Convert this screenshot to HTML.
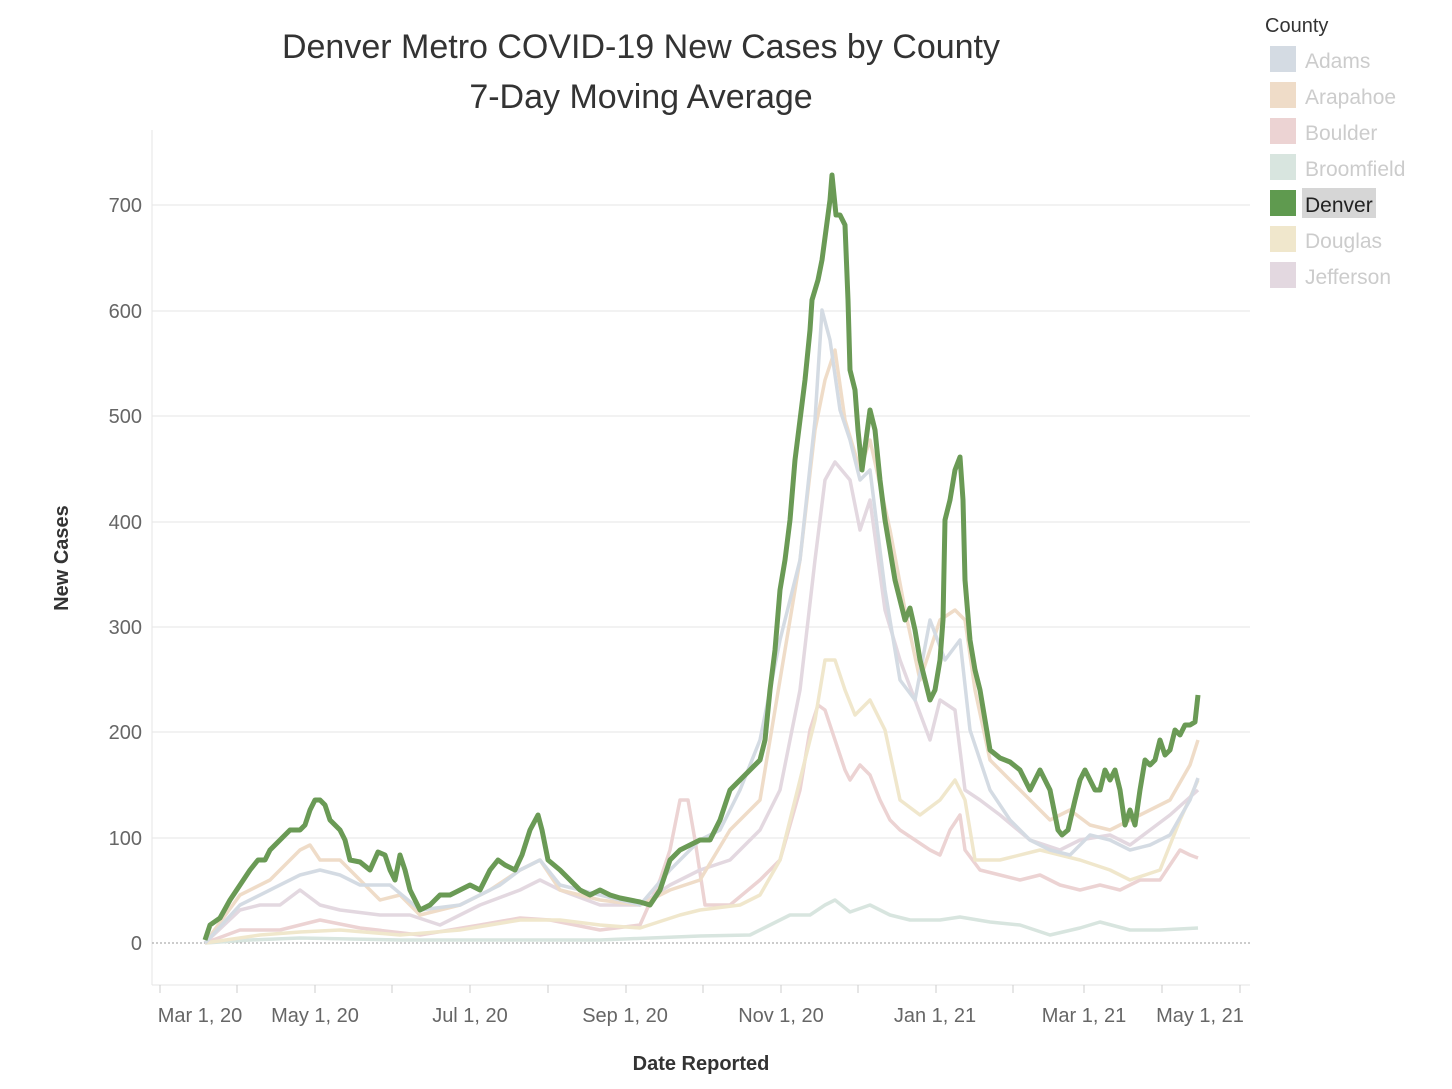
<!DOCTYPE html>
<html><head><meta charset="utf-8"><style>
body{margin:0;background:#fff;width:1452px;height:1084px;overflow:hidden;font-family:"Liberation Sans",sans-serif}
</style></head><body>
<svg width="1452" height="1084" viewBox="0 0 1452 1084" xmlns="http://www.w3.org/2000/svg" font-family="Liberation Sans, sans-serif">
<text x="641" y="58" font-size="34" fill="#333" text-anchor="middle">Denver Metro COVID-19 New Cases by County</text>
<text x="641" y="108" font-size="34" fill="#333" text-anchor="middle">7-Day Moving Average</text>
<!-- grid -->
<g stroke="#eeeeee" stroke-width="1.5">
<line x1="152" y1="205" x2="1250" y2="205"/><line x1="152" y1="311" x2="1250" y2="311"/>
<line x1="152" y1="416" x2="1250" y2="416"/><line x1="152" y1="522" x2="1250" y2="522"/>
<line x1="152" y1="627" x2="1250" y2="627"/><line x1="152" y1="732" x2="1250" y2="732"/>
<line x1="152" y1="838" x2="1250" y2="838"/>
</g>
<line x1="152" y1="130" x2="152" y2="985" stroke="#e6e6e6"/>
<line x1="152" y1="985" x2="1250" y2="985" stroke="#e6e6e6"/>
<line x1="152" y1="943" x2="1250" y2="943" stroke="#999" stroke-dasharray="2,2"/>
<g font-size="20" fill="#666" text-anchor="end">
<text x="142" y="212">700</text><text x="142" y="318">600</text><text x="142" y="423">500</text>
<text x="142" y="529">400</text><text x="142" y="634">300</text><text x="142" y="739">200</text>
<text x="142" y="845">100</text><text x="142" y="950">0</text>
</g>
<g stroke="#ccc" stroke-width="1">
<line x1="160" y1="985" x2="160" y2="993"/><line x1="237" y1="985" x2="237" y2="993"/><line x1="315" y1="985" x2="315" y2="993"/><line x1="392" y1="985" x2="392" y2="993"/><line x1="470" y1="985" x2="470" y2="993"/><line x1="548" y1="985" x2="548" y2="993"/><line x1="626" y1="985" x2="626" y2="993"/><line x1="703" y1="985" x2="703" y2="993"/><line x1="781" y1="985" x2="781" y2="993"/><line x1="858" y1="985" x2="858" y2="993"/><line x1="936" y1="985" x2="936" y2="993"/><line x1="1013" y1="985" x2="1013" y2="993"/><line x1="1084" y1="985" x2="1084" y2="993"/><line x1="1162" y1="985" x2="1162" y2="993"/><line x1="1240" y1="985" x2="1240" y2="993"/>
</g>
<g font-size="20" fill="#666" text-anchor="middle">
<text x="200" y="1022">Mar 1, 20</text><text x="315" y="1022">May 1, 20</text><text x="470" y="1022">Jul 1, 20</text>
<text x="625" y="1022">Sep 1, 20</text><text x="781" y="1022">Nov 1, 20</text><text x="935" y="1022">Jan 1, 21</text>
<text x="1084" y="1022">Mar 1, 21</text><text x="1200" y="1022">May 1, 21</text>
</g>
<text x="701" y="1070" font-size="20" font-weight="bold" fill="#333" text-anchor="middle">Date Reported</text>
<text transform="translate(68,558) rotate(-90)" font-size="20" font-weight="bold" fill="#333" text-anchor="middle">New Cases</text>
<g fill="none" stroke-width="3.5" stroke-linejoin="round">
<polyline stroke="#d8e5df" points="205,943 250,940 300,938 400,940 500,940 600,940 700,936 750,935 770,925 790,915 810,915 825,905 835,900 850,912 870,905 890,915 910,920 940,920 960,917 990,922 1020,925 1050,935 1080,928 1100,922 1130,930 1160,930 1198,928"/>
<polyline stroke="#ecd3d3" points="205,943 240,930 280,930 300,925 320,920 360,928 420,935 480,925 520,918 550,920 600,930 640,925 660,880 670,850 680,800 688,800 695,840 705,905 730,905 760,880 780,860 800,790 810,730 818,705 825,710 835,740 845,770 850,780 860,765 870,775 880,800 890,820 900,830 915,840 930,850 940,855 950,830 960,815 965,850 980,870 1000,875 1020,880 1040,875 1060,885 1080,890 1100,885 1120,890 1140,880 1160,880 1180,850 1190,855 1198,858"/>
<polyline stroke="#f0e7cc" points="205,943 260,935 300,932 340,930 400,935 460,930 520,920 560,920 600,925 640,928 680,915 700,910 740,905 760,895 780,860 800,780 815,720 825,660 835,660 845,690 855,715 870,700 885,730 900,800 920,815 940,800 955,780 965,800 975,860 1000,860 1040,850 1080,860 1110,870 1130,880 1160,870 1180,820 1198,780"/>
<polyline stroke="#e3d8e0" points="205,943 240,910 260,905 280,905 300,890 320,905 340,910 380,915 410,915 440,925 480,905 520,890 540,880 560,890 600,905 640,905 670,885 700,870 730,860 760,830 780,790 800,690 815,560 825,480 835,462 850,480 860,530 870,500 885,610 900,660 915,700 930,740 940,700 955,710 965,790 980,800 1000,815 1030,840 1060,850 1080,840 1110,835 1130,845 1150,830 1170,815 1198,790"/>
<polyline stroke="#efdcc8" points="205,943 240,895 270,880 300,850 310,845 320,860 340,860 360,880 380,900 400,895 420,915 460,905 490,890 520,870 540,860 560,890 600,900 640,905 670,890 700,880 730,830 760,800 780,680 800,560 815,430 825,380 835,350 845,420 860,470 870,440 890,530 905,610 920,680 940,620 955,610 965,620 975,690 990,760 1010,780 1030,800 1050,820 1070,810 1090,825 1110,830 1130,820 1150,810 1170,800 1190,765 1198,740"/>
<polyline stroke="#d4dbe3" points="205,943 240,905 270,890 300,875 320,870 340,875 360,885 390,885 420,910 460,905 500,885 520,870 540,860 560,885 600,895 640,905 670,870 700,840 720,830 740,790 760,740 780,640 800,560 815,420 822,310 830,340 840,410 850,440 860,480 870,470 885,590 900,680 915,700 930,620 945,660 960,640 970,730 990,790 1010,820 1030,840 1050,850 1070,855 1090,835 1110,840 1130,850 1150,845 1170,835 1190,800 1198,778"/>
<polyline stroke="#6a9a55" stroke-width="5" points="205,940 210,925 220,918 230,900 240,885 250,870 258,860 265,860 270,850 280,840 290,830 300,830 305,825 310,810 315,800 320,800 325,805 330,820 340,830 345,840 350,860 360,862 370,870 378,852 385,855 390,870 395,880 400,855 405,870 410,890 420,910 430,905 440,895 450,895 460,890 470,885 480,890 490,870 498,860 505,865 515,870 522,855 530,830 538,815 542,830 548,860 560,870 570,880 580,890 590,895 600,890 610,895 620,898 630,900 640,902 650,905 660,890 670,860 680,850 690,845 700,840 710,840 720,820 730,790 740,780 750,770 760,760 765,740 770,690 775,650 780,590 785,560 790,520 795,460 800,420 805,380 810,330 812,300 818,280 822,260 826,230 830,200 832,175 836,215 840,215 845,225 848,300 850,370 855,390 858,430 862,470 866,440 870,410 875,430 880,480 885,520 890,550 895,580 900,600 905,620 910,608 915,630 920,660 925,680 930,700 935,690 940,660 943,620 945,520 950,500 955,470 960,457 963,500 965,580 970,640 975,670 980,690 985,720 990,750 1000,758 1010,762 1020,770 1030,790 1040,770 1050,790 1058,830 1062,835 1068,830 1075,800 1080,780 1085,770 1090,780 1095,790 1100,790 1105,770 1110,780 1115,770 1120,790 1125,825 1130,810 1135,825 1140,790 1145,760 1150,765 1155,760 1160,740 1165,755 1170,750 1175,730 1180,735 1185,725 1190,725 1195,722 1198,695"/>
</g>
<!-- legend -->
<text x="1265" y="32" font-size="20" fill="#333">County</text>
<g font-size="21" fill="#ccc">
<rect x="1270" y="46" width="26" height="26" fill="#d4dbe3"/><text x="1305" y="68">Adams</text>
<rect x="1270" y="82" width="26" height="26" fill="#efdcc8"/><text x="1305" y="104">Arapahoe</text>
<rect x="1270" y="118" width="26" height="26" fill="#ecd3d3"/><text x="1305" y="140">Boulder</text>
<rect x="1270" y="154" width="26" height="26" fill="#d8e5df"/><text x="1305" y="176">Broomfield</text>
<rect x="1270" y="190" width="26" height="26" fill="#5f9a4f"/><rect x="1302" y="188" width="74" height="30" fill="#d6d6d6"/><text x="1305" y="212" fill="#222">Denver</text>
<rect x="1270" y="226" width="26" height="26" fill="#f0e7cc"/><text x="1305" y="248">Douglas</text>
<rect x="1270" y="262" width="26" height="26" fill="#e3d8e0"/><text x="1305" y="284">Jefferson</text>
</g>
</svg>
</body></html>
